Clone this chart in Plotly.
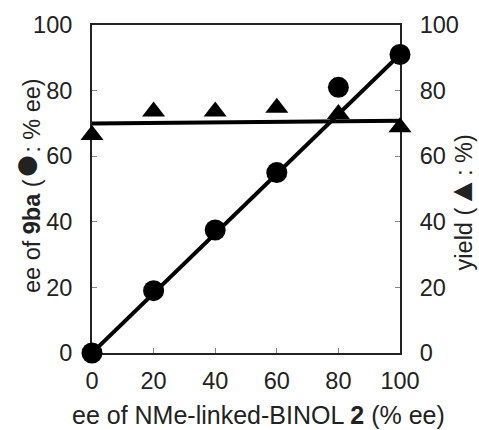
import plotly.graph_objects as go

# data
ee_binol = [0, 20, 40, 60, 80, 100]
ee_9ba = [0, 19, 37.5, 55, 81, 91]
yield_pct = [66.5, 73.6, 73.6, 74.8, 72.9, 68.8]

fit_x = [0, 100]
fit_ee = [0, 91]
fit_yield = [70, 70.8]

tick_vals = [0, 20, 40, 60, 80, 100]
tick_text = ["0", "20", "40", "60", "80", "100"]

x_title = "ee of NMe-linked-BINOL <b>2</b> (% ee)"
y_title = "ee of <b>9ba</b> (<span style='font-size:44px'>●</span>: % ee)"
y2_title = "yield (<span style='font-size:32px'>▲</span>: %)"

FONT = "Liberation Sans, Arial, Helvetica, sans-serif"
FS = 23.5
INK = "#222"

fig = go.Figure()

fig.add_trace(go.Scatter(x=fit_x, y=fit_yield, mode="lines", yaxis="y2",
                         line=dict(color="black", width=4), showlegend=False,
                         cliponaxis=False))
fig.add_trace(go.Scatter(x=fit_x, y=fit_ee, mode="lines",
                         line=dict(color="black", width=4), showlegend=False,
                         cliponaxis=False))
fig.add_trace(go.Scatter(x=ee_binol, y=ee_9ba, mode="markers",
                         marker=dict(symbol="circle", size=21, color="black"),
                         showlegend=False, cliponaxis=False))
fig.add_trace(go.Scatter(x=ee_binol, y=yield_pct, mode="markers", yaxis="y2",
                         marker=dict(symbol="triangle-up", size=20, color="black"),
                         showlegend=False, cliponaxis=False))

axis_common = dict(
    range=[0, 100], tickvals=tick_vals, ticktext=tick_text, automargin=False,
    showgrid=False, zeroline=False, showline=True, linecolor=INK,
    linewidth=2, ticks="inside", ticklen=5, tickwidth=1, tickcolor="#888",
    tickfont=dict(family=FONT, size=FS, color=INK), layer="below traces",
)

fig.update_layout(
    width=479, height=430,
    margin=dict(l=92, r=79, t=25, b=77),
    paper_bgcolor="white", plot_bgcolor="white",
    font=dict(family=FONT, color=INK),
    xaxis=dict(**axis_common, mirror=True, ticklabelstandoff=6),
    yaxis=dict(**axis_common, ticklabelstandoff=13),
    yaxis2=dict(**axis_common, overlaying="y", side="right", ticklabelstandoff=13),
    annotations=[
        dict(text=x_title, xref="paper", yref="paper", x=0.542, y=-0.189,
             xanchor="center", yanchor="middle", showarrow=False,
             font=dict(family=FONT, size=25, color=INK)),
        dict(text=y_title, xref="paper", yref="paper", x=-0.221, y=0.512,
             xanchor="center", yanchor="middle", showarrow=False, textangle=-90,
             font=dict(family=FONT, size=FS, color=INK)),
        dict(text=y2_title, xref="paper", yref="paper", x=1.199, y=0.460,
             xanchor="center", yanchor="middle", showarrow=False, textangle=-90,
             font=dict(family=FONT, size=FS, color=INK)),
    ],
)

fig.write_html("out.html", config={"displayModeBar": False},
               post_script="document.body.style.margin='0';document.body.style.overflow='hidden';")
